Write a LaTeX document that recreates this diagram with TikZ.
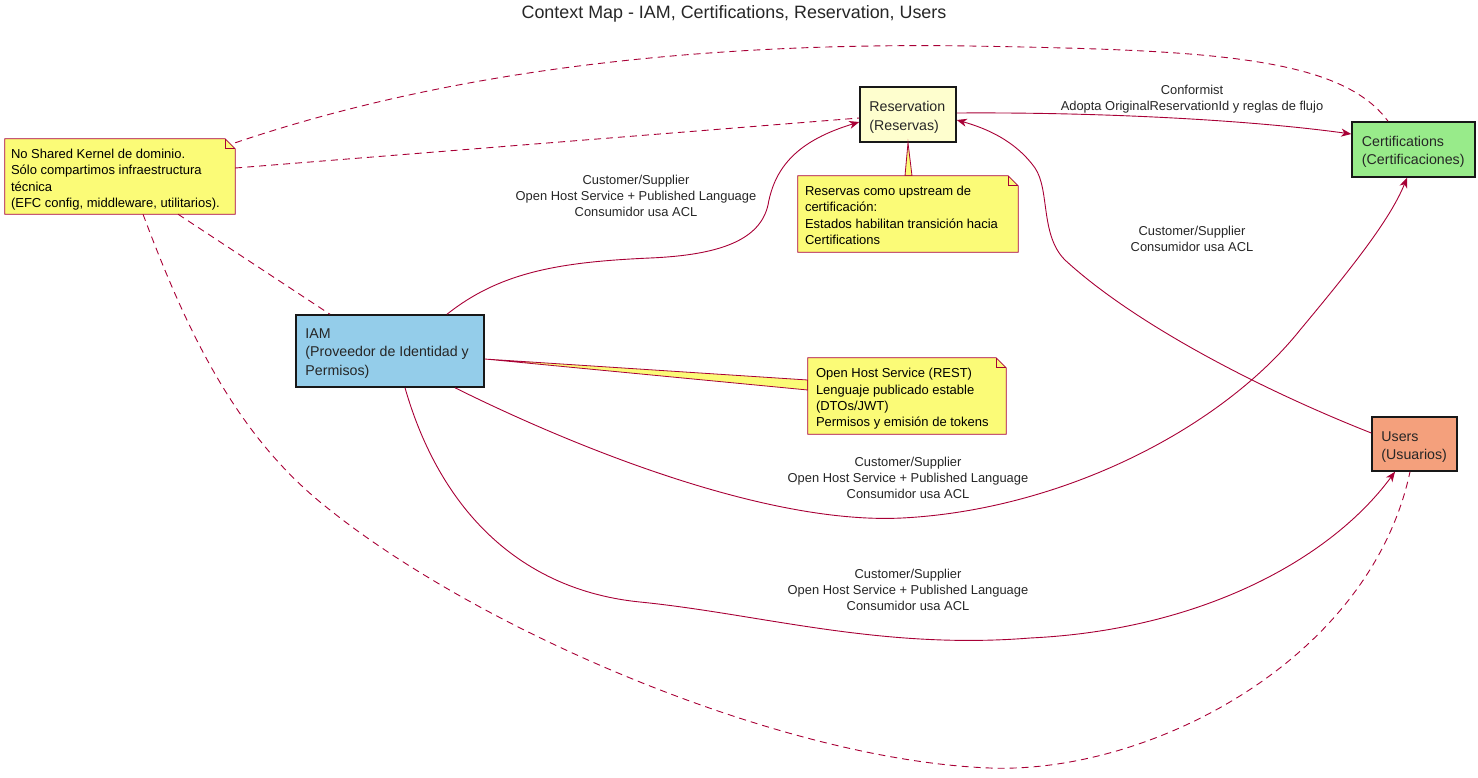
\documentclass[tikz,border=0pt]{standalone}
\usepackage{fontspec}
\setmainfont{Liberation Sans}
\usetikzlibrary{arrows.meta,backgrounds}
\definecolor{crim}{HTML}{A80036}
\definecolor{notefill}{HTML}{FBFB77}
\definecolor{resfill}{HTML}{FEFECE}
\definecolor{certfill}{HTML}{98EB8A}
\definecolor{iamfill}{HTML}{94CDEA}
\definecolor{usersfill}{HTML}{F4A07C}
\definecolor{boxline}{HTML}{181818}
\begin{document}
\begin{tikzpicture}[x=1pt,y=-1pt,
  box/.style={draw=boxline, line width=1.5pt, inner sep=0pt},
  boxtext/.style={anchor=west, inner sep=0pt, align=left, font=\fontsize{14.2}{18.5}\selectfont, text=black!85},
  notebox/.style={inner sep=0pt, draw=none},
  notetext/.style={anchor=west, inner sep=0pt, align=left, font=\fontsize{13}{16.4}\selectfont},
  noteshape/.style={draw=crim, fill=notefill, line width=0.8pt},
  elabel/.style={inner sep=0pt, align=center, font=\fontsize{12.9}{16}\selectfont, text=black!85},
  rel/.style={draw=crim, line width=0.9pt},
  arr/.style={-{Stealth[length=10pt,width=8pt,inset=3pt]}},
  dsh/.style={draw=crim, line width=0.9pt, dash pattern=on 7pt off 5pt}
]
\useasboundingbox (0,0) rectangle (1478,777);

% title
\node[inner sep=0pt, font=\fontsize{17.9}{20}\selectfont, text=black!85] (title) at (734,13.5) {Context Map - IAM, Certifications, Reservation, Users};

% boxes
\node[box, fill=resfill, minimum width=96pt, minimum height=55pt] (res) at (908,114.5) {};
\node[boxtext] (rest) at ([xshift=10pt,yshift=-3pt]res.west) {Reservation\\(Reservas)};
\node[box, fill=certfill, minimum width=123pt, minimum height=55pt] (cert) at (1413.5,149.5) {};
\node[boxtext] (certt) at ([xshift=10.5pt,yshift=-2.5pt]cert.west) {Certifications\\(Certificaciones)};
\node[box, fill=iamfill, minimum width=188pt, minimum height=72pt] (iam) at (390,351) {};
\node[boxtext] (iamt) at ([xshift=10pt,yshift=-2.5pt]iam.west) {IAM\\(Proveedor de Identidad y\\Permisos)};
\node[box, fill=usersfill, minimum width=85pt, minimum height=54pt] (users) at (1414.5,444) {};
\node[boxtext] (userst) at ([xshift=10pt,yshift=-3pt]users.west) {Users\\(Usuarios)};

% notes (shape holders)
\node[notebox, minimum width=230pt, minimum height=75pt] (n1) at (120,176.5) {};
\node[notebox, minimum width=220pt, minimum height=76pt] (rn) at (908,214) {};
\node[notebox, minimum width=198pt, minimum height=76pt] (inote) at (907,396) {};

% note wedges
\path[noteshape] (res.south) -- ([xshift=-3pt]rn.north) -- ([xshift=4pt]rn.north) -- cycle;
\path[noteshape] ([yshift=-8pt]iam.east) -- ([yshift=16pt]inote.west) -- ([yshift=6pt]inote.west) -- cycle;

% note outlines
\foreach \n in {n1,rn,inote}{
  \path[noteshape] (\n.north west) -- ([xshift=-10pt]\n.north east) -- ([yshift=-10pt]\n.north east) -- (\n.south east) -- (\n.south west) -- cycle;
  \draw[crim, line width=0.8pt] ([xshift=-10pt]\n.north east) -- ([xshift=-10pt,yshift=-10pt]\n.north east) -- ([yshift=-10pt]\n.north east);
}
\node[notetext] (n1t) at ([xshift=6pt,yshift=-3pt]n1.west) {No Shared Kernel de dominio.\\Sólo compartimos infraestructura\\técnica\\(EFC config, middleware, utilitarios).};
\node[notetext] (rnt) at ([xshift=7pt,yshift=-1.5pt]rn.west) {Reservas como upstream de\\certificación:\\Estados habilitan transición hacia\\Certifications};
\node[notetext] (inotet) at ([xshift=8pt,yshift=-3pt]inote.west) {Open Host Service (REST)\\Lenguaje publicado estable\\(DTOs/JWT)\\Permisos y emisión de tokens};

% solid relations
\draw[rel, arr] ([xshift=57pt]iam.north) .. controls (500,272) and (560,262) .. (650,258)
   .. controls (720,255) and (760,240) .. (768,205)
   .. controls (775,165) and (800,140) .. ([yshift=-7.5pt]res.west);
\draw[rel, arr] ([yshift=1.5pt]res.east) .. controls (1100,112) and (1250,120) .. ([yshift=15.5pt]cert.west);
\draw[rel, arr] ([xshift=65pt]iam.south) .. controls (560,440) and (760,525) .. (902,518)
   .. controls (1060,510) and (1220,430) .. (1300,330)
   .. controls (1350,270) and (1390,220) .. ([xshift=-6.5pt]cert.south);
\draw[rel, arr] ([xshift=15pt]iam.south) .. controls (440,510) and (520,590) .. (640,602)
   .. controls (760,614) and (880,650) .. (1030,638)
   .. controls (1200,630) and (1330,560) .. ([xshift=-19.5pt]users.south);
\draw[rel, arr] ([yshift=11pt]users.west) .. controls (1250,385) and (1130,320) .. (1065,260)
   .. controls (1040,235) and (1050,190) .. (1035,168)
   .. controls (1015,140) and (985,128) .. ([yshift=-5.5pt]res.east);

% dashed note links
\draw[dsh] ([yshift=8.5pt]n1.east) -- ([yshift=-3.5pt]res.west);
\draw[dsh] ([yshift=-4pt]n1.north east) .. controls (450,70) and (700,42) .. (970,46)
   .. controls (1200,50) and (1340,55) .. ([xshift=-25.5pt]cert.north);
\draw[dsh] ([xshift=58pt]n1.south) -- ([xshift=-60pt]iam.north);
\draw[dsh] ([xshift=23pt]n1.south) .. controls (190,340) and (240,440) .. (330,510)
   .. controls (480,630) and (780,760) .. (990,768)
   .. controls (1150,774) and (1370,660) .. ([xshift=-4.5pt]users.south);

% edge labels
\node[elabel] (l1) at (636,196) {Customer/Supplier\\Open Host Service + Published Language\\Consumidor usa ACL};
\node[elabel] (l2) at (1192,99) {Conformist\\Adopta OriginalReservationId y reglas de flujo};
\node[elabel] (l3) at (908,478) {Customer/Supplier\\Open Host Service + Published Language\\Consumidor usa ACL};
\node[elabel] (l4) at (908,590) {Customer/Supplier\\Open Host Service + Published Language\\Consumidor usa ACL};
\node[elabel] (l5) at (1192,239) {Customer/Supplier\\Consumidor usa ACL};
\end{tikzpicture}
\end{document}
